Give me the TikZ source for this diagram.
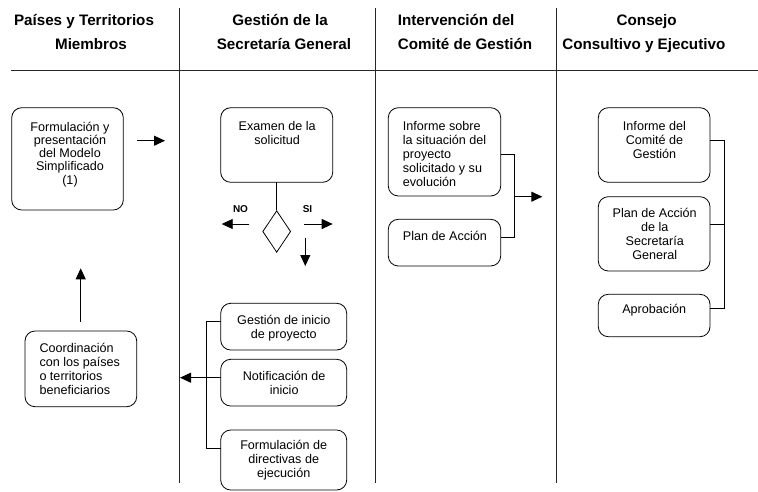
\documentclass[tikz,border=0pt]{standalone}
\usepackage{fontspec}
\setmainfont{Liberation Sans}
\usetikzlibrary{arrows.meta,shapes.geometric}
\newcommand{\fl}{\rule{0pt}{12pt}}
\begin{document}
\begin{tikzpicture}[x=1pt,y=-1pt,
  box/.style={draw, rounded corners=10pt, line width=0.8pt, inner sep=0pt, outer sep=0pt},
  txt/.style={font=\fontsize{12.6}{14}\selectfont, inner sep=0pt, anchor=north, align=center},
  ltxt/.style={txt, anchor=north west, align=left},
  hdr/.style={font=\bfseries\fontsize{15.2}{18}\selectfont, anchor=base, inner sep=0pt},
  lbl/.style={font=\bfseries\fontsize{10}{12}\selectfont, anchor=base, inner sep=0pt},
  arr/.style={-{Triangle[length=11pt,width=10pt]}, line width=0.9pt},
  ln/.style={line width=0.8pt},
  lane/.style={line width=0.8pt, black!85}]
\useasboundingbox (0,0) rectangle (758,491);

% lanes
\coordinate (v1t) at (179.5,8); \coordinate (v1b) at (179.5,483);
\coordinate (v2t) at (375,8);   \coordinate (v2b) at (375,483);
\coordinate (v3t) at (556,8);   \coordinate (v3b) at (556,483);
\coordinate (hl) at (11,70);    \coordinate (hr) at (758,70);
\draw[lane] (v1t) -- (v1b);
\draw[lane] (v2t) -- (v2b);
\draw[lane] (v3t) -- (v3b);
\draw[lane] (hl) -- (hr);

% headers
\node[hdr] (h1a) at (84,25) {Países y Territorios};
\node[hdr] (h1b) at (91,49.3) {Miembros};
\node[hdr] (h2a) at (280,25) {Gestión de la};
\node[hdr] (h2b) at (284,49.3) {Secretaría General};
\node[hdr, anchor=base west] (h3a) at (397.7,25) {Intervención del};
\node[hdr, anchor=base west] (h3b) at (397.7,49.3) {Comité de Gestión};
\node[hdr] (h4a) at (646.7,25) {Consejo};
\node[hdr] (h4b) at (643.8,49.3) {Consultivo y Ejecutivo};

% boxes
\node[box, minimum width=111.6pt, minimum height=102.3pt] (b1) at (67.5,158.85) {};
\node[box, minimum width=112pt, minimum height=74.6pt] (exam) at (276.7,145) {};
\node[box, minimum width=111.7pt, minimum height=75.7pt] (coord) at (80.85,368.85) {};
\node[box, minimum width=126pt, minimum height=46.7pt] (gest) at (283.7,326.65) {};
\node[box, minimum width=126pt, minimum height=46.7pt] (notif) at (283.7,382.65) {};
\node[box, minimum width=126pt, minimum height=60pt] (formd) at (283.7,460) {};
\node[box, minimum width=112.4pt, minimum height=88.3pt] (inf3) at (444.5,151.85) {};
\node[box, minimum width=112.4pt, minimum height=46.7pt] (plan3) at (444.5,242.65) {};
\node[box, minimum width=111.7pt, minimum height=74.6pt] (inf4) at (654.15,145) {};
\node[box, minimum width=111.7pt, minimum height=74.3pt] (plan4) at (654.15,233.85) {};
\node[box, minimum width=111.7pt, minimum height=42.4pt] (apro) at (654.15,315.5) {};
\node[draw, diamond, line width=0.8pt, inner sep=0pt, minimum width=28pt, minimum height=41.6pt] (dia) at (276.7,231.5) {};

% texts
\node[txt, font=\fontsize{12.6}{13.2}\selectfont] (t1) at (70,119) {\fl Formulación y\\presentación\\del Modelo\\Simplificado\\(1)};
\node[txt] (texam) at (277.2,118.7) {\fl Examen de la\\solicitud};
\node[ltxt] (tinf3) at (402.7,118) {\fl Informe sobre\\la situación del\\proyecto\\solicitado y su\\evolución};
\node[ltxt] (tplan3) at (402.7,227.8) {\fl Plan de Acción};
\node[txt] (tinf4) at (654.5,118) {\fl Informe del\\Comité de\\Gestión};
\node[txt] (tplan4) at (654.7,205.3) {\fl Plan de Acción\\de la\\Secretaría\\General};
\node[txt] (tapro) at (654.2,301.5) {\fl Aprobación};
\node[ltxt] (tcoord) at (39.3,340.3) {\fl Coordinación\\con los países\\o territorios\\beneficiarios};
\node[txt] (tgest) at (283.8,312.3) {\fl Gestión de inicio\\de proyecto};
\node[txt] (tnotif) at (284.2,368) {\fl Notificación de\\inicio};
\node[txt] (tformd) at (283.7,437.3) {\fl Formulación de\\directivas de\\ejecución};
\node[lbl] (no) at (240.5,212.7) {NO};
\node[lbl] (si) at (307.5,212.7) {SI};

% connectors
\coordinate (a1s) at (137,140.7); \coordinate (a1e) at (165,140.7);
\draw[arr] (a1s) -- (a1e);
\draw[ln] (exam.south) -- (dia.north);
\coordinate (nos) at (249.3,224); \coordinate (noe) at (221.7,224);
\draw[arr] (nos) -- (noe);
\coordinate (sis) at (304.3,224); \coordinate (sie) at (332.7,224);
\draw[arr] (sis) -- (sie);
\coordinate (dns) at (305.3,237.7); \coordinate (dne) at (305.3,266);
\draw[arr] (dns) -- (dne);
\coordinate (ups) at (80.7,321.7); \coordinate (upe) at (80.7,268.3);
\draw[arr] (ups) -- (upe);

\coordinate (k1) at (514.3,154.3); \coordinate (k2) at (514.3,237.7);
\coordinate (k3) at (514.3,196.7); \coordinate (k4) at (542.3,196.7);
\draw[ln] (inf3.east |- k1) -- (k1) -- (k2) -- (plan3.east |- k2);
\draw[arr] (k3) -- (k4);

\coordinate (m1) at (724,140.7); \coordinate (m2) at (724,224.3); \coordinate (m3) at (724,308.3);
\draw[ln] (inf4.east |- m1) -- (m1) -- (m3) -- (apro.east |- m3);
\draw[ln] (plan4.east |- m2) -- (m2);

\coordinate (n1) at (206.7,321.7); \coordinate (n2) at (206.7,377.7); \coordinate (n3) at (206.7,448.3);
\coordinate (ntip) at (180,377.7);
\draw[ln] (gest.west |- n1) -- (n1) -- (n3) -- (formd.west |- n3);
\draw[arr] (notif.west |- n2) -- (ntip);
\end{tikzpicture}
\end{document}
